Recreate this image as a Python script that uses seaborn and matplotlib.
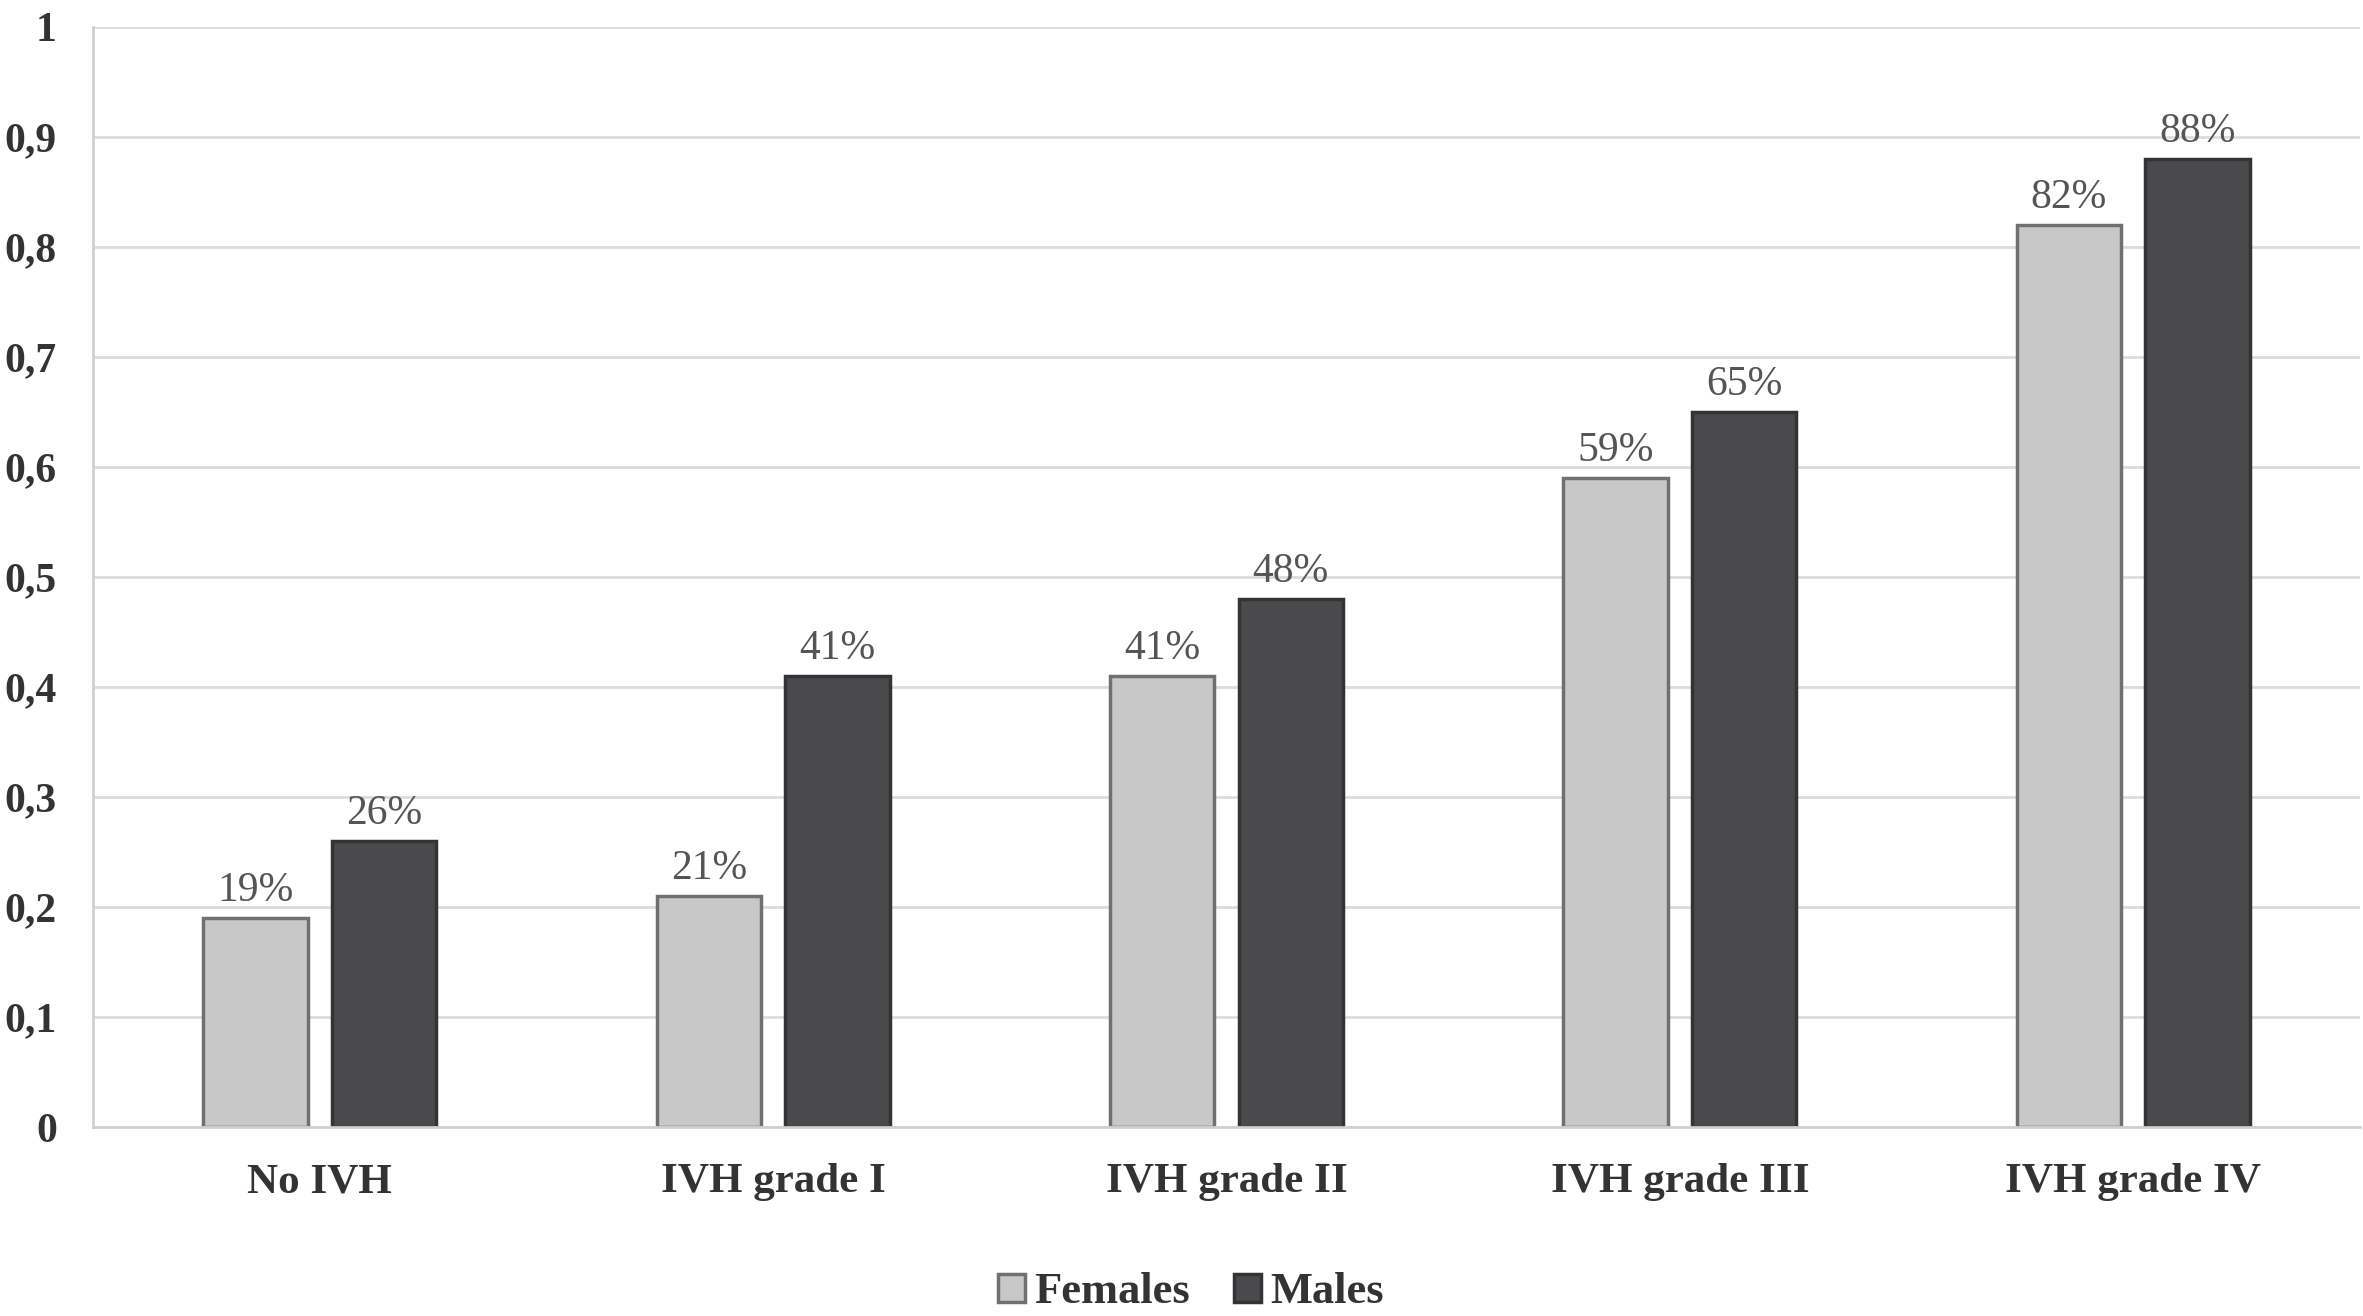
import matplotlib
matplotlib.use("Agg")
import matplotlib.pyplot as plt
import seaborn as sns
import pandas as pd
from matplotlib.ticker import FuncFormatter

categories = ["No IVH", "IVH grade I", "IVH grade II", "IVH grade III", "IVH grade IV"]
females = [0.19, 0.21, 0.41, 0.59, 0.82]
males = [0.26, 0.41, 0.48, 0.65, 0.88]
groups = ["Females", "Males"]
yticks = [0, 0.1, 0.2, 0.3, 0.4, 0.5, 0.6, 0.7, 0.8, 0.9, 1.0]

df = pd.DataFrame({
    "Category": categories * 2,
    "Value": females + males,
    "Sex": ["Females"] * len(categories) + ["Males"] * len(categories),
})

sns.set_style("white")
plt.rcParams["font.family"] = ["Liberation Serif", "DejaVu Serif"]

fig, ax = plt.subplots(figsize=(23.63, 13.16), dpi=100)
fig.subplots_adjust(left=0.0394, right=0.9987, top=0.9795, bottom=0.1436)

palette = {"Females": "#c8c8c9", "Males": "#4a4a4c"}
sns.barplot(data=df, x="Category", y="Value", hue="Sex", hue_order=groups,
            palette=palette, width=0.567, gap=0.188, ax=ax, legend=True,
            saturation=1, errorbar=None)

edges = {"Females": "#707070", "Males": "#333335"}
for cont, g in zip(ax.containers, groups):
    for bar in cont:
        bar.set_edgecolor(edges[g])
        bar.set_linewidth(2.5)
    ax.bar_label(cont, labels=[f"{b.get_height() * 100:.0f}%" for b in cont],
                 padding=6, fontsize=30, color="#555555")

ax.set_xlim(-0.5, 4.5)
ax.set_ylim(0, 1)
ax.set_yticks(yticks)
ax.yaxis.set_major_formatter(FuncFormatter(lambda v, p: f"{v:g}".replace(".", ",")))
ax.grid(axis="y", color="#dcdcdc", linewidth=2)
ax.set_axisbelow(True)
ax.set_xlabel("")
ax.set_ylabel("")
ax.tick_params(axis="y", length=0, pad=26, labelsize=30, labelcolor="#333333")
ax.tick_params(axis="x", length=0, pad=26, labelsize=31, labelcolor="#333333")
for lab in ax.get_yticklabels() + ax.get_xticklabels():
    lab.set_fontweight("bold")

for s in ["top", "right"]:
    ax.spines[s].set_visible(False)
for s in ["left", "bottom"]:
    ax.spines[s].set_color("#d0d0d0")
    ax.spines[s].set_linewidth(2)

handles, labels = ax.get_legend_handles_labels()
ax.get_legend().remove()
leg = fig.legend(handles, labels, loc="center", bbox_to_anchor=(0.504, 0.018),
                 ncol=2, frameon=False, handlelength=0.6, handleheight=0.6,
                 handletextpad=0.2, columnspacing=1.0,
                 prop={"size": 32, "weight": "bold"})
for h, g in zip(leg.legend_handles, groups):
    h.set_edgecolor(edges[g])
    h.set_linewidth(2.5)
for t in leg.get_texts():
    t.set_color("#333333")

plt.savefig("out.png", dpi=100)
